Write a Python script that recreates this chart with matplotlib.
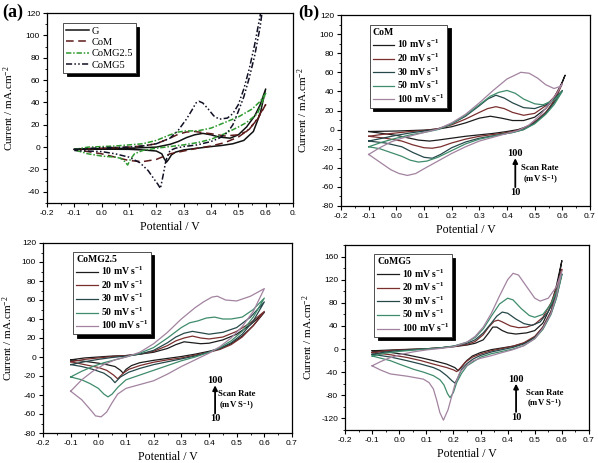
import matplotlib
matplotlib.use('Agg')
import matplotlib.pyplot as plt
from matplotlib.ticker import MultipleLocator, FormatStrFormatter

plt.rcParams['font.family'] = 'Liberation Serif'
plt.rcParams['mathtext.fontset'] = 'custom'
plt.rcParams['mathtext.rm'] = 'Liberation Serif'
plt.rcParams['mathtext.bf'] = 'Liberation Serif:bold'
plt.rcParams['mathtext.default'] = 'regular'
plt.rcParams['axes.unicode_minus'] = False
plt.rcParams['axes.linewidth'] = 0.9

# ---- (a) comparison of electrodes ----
A_G_E = [-0.1, 0.0, 0.1, 0.2, 0.25, 0.28, 0.31, 0.34, 0.37, 0.40, 0.43, 0.47, 0.50, 0.53, 0.56, 0.58, 0.60,
         0.58, 0.555, 0.52, 0.48, 0.44, 0.40, 0.35, 0.30, 0.27, 0.255, 0.245, 0.237, 0.228, 0.22, 0.20, 0.15, 0.10, 0.0, -0.1]
A_G_I = [-2, -1.5, -1, 0, 2.5, 5, 8.5, 11, 12.3, 11, 9, 8, 11, 18, 28, 38, 52,
         30, 14, 6, 3, 1.5, 0.5, -1, -2.5, -4.5, -7, -11, -13.5, -10, -6, -3.5, -2.5, -2, -1.8, -2]
A_COM_E = [-0.1, 0.0, 0.1, 0.15, 0.2, 0.25, 0.28, 0.31, 0.34, 0.37, 0.40, 0.45, 0.50, 0.53, 0.56, 0.60,
           0.57, 0.54, 0.50, 0.45, 0.40, 0.35, 0.30, 0.25, 0.20, 0.15, 0.10, 0.05, 0.0, -0.05, -0.1]
A_COM_I = [-2, -1, 0, 1, 3, 8, 11.5, 13.5, 14, 13, 12, 10, 11, 14, 22, 38,
           25, 16, 9, 4, 1, -1, -3.5, -6, -11, -13, -12, -9, -6, -4, -2]
A_G25_E = [-0.1, -0.05, 0.0, 0.05, 0.1, 0.15, 0.2, 0.25, 0.28, 0.31, 0.35, 0.4, 0.45, 0.5, 0.55, 0.58, 0.6,
           0.57, 0.53, 0.5, 0.45, 0.4, 0.35, 0.3, 0.25, 0.2, 0.15, 0.12, 0.105, 0.095, 0.085, 0.07, 0.05, 0.0, -0.05, -0.1]
A_G25_I = [-2, 0, 0.5, 1, 2, 3, 6, 11, 13.5, 14.5, 14.5, 17, 22, 27, 34, 41, 48,
           30, 22, 18, 12, 7, 4, 2, 0.5, -1, -3, -6, -11, -16, -13, -10, -9, -8, -6, -2.5]
A_G5_E = [-0.1, 0.0, 0.1, 0.15, 0.2, 0.25, 0.28, 0.31, 0.33, 0.345, 0.356, 0.37, 0.39, 0.41, 0.43, 0.46, 0.48, 0.5,
          0.52, 0.54, 0.56, 0.58, 0.6,
          0.58, 0.56, 0.54, 0.52, 0.5, 0.48, 0.46, 0.43, 0.4, 0.35, 0.3, 0.27, 0.25, 0.235, 0.225, 0.215, 0.205,
          0.19, 0.17, 0.14, 0.1, 0.05, 0.0, -0.05, -0.1]
A_G5_I = [-2, -0.5, 0, 1, 3, 8, 15, 25, 33, 39.5, 41, 39.5, 34, 28, 25, 26, 30, 38,
          52, 70, 92, 118, 145,
          108, 82, 62, 45, 32, 20, 13, 8, 5, 2, 0.5, -1, -3, -12, -25, -37, -33,
          -28, -21, -14, -9, -6, -4, -3.5, -3]

# ---- (b) CoM, scan rates ----
B_10_E = [-0.1, 0.0, 0.1, 0.15, 0.2, 0.25, 0.3, 0.34, 0.38, 0.42, 0.46, 0.5, 0.54, 0.57, 0.6, 0.61,
          0.58, 0.55, 0.52, 0.48, 0.44, 0.4, 0.35, 0.3, 0.25, 0.2, 0.15, 0.12, 0.08, 0.04, 0.0, -0.05, -0.1]
B_10_I = [-2, -1.5, -0.5, 0.5, 3, 7, 12, 14, 12, 9.5, 9.5, 13, 22, 33, 50, 57,
          35, 21, 12, 4, 0, -2, -4, -5.5, -7, -9, -11, -12, -11, -8.5, -6, -4, -2]
B_20_E = [-0.1, -0.05, 0.0, 0.05, 0.1, 0.15, 0.2, 0.25, 0.3, 0.33, 0.36, 0.39, 0.42, 0.46, 0.5, 0.54, 0.57, 0.6,
          0.57, 0.54, 0.5, 0.46, 0.42, 0.38, 0.3, 0.25, 0.2, 0.16, 0.13, 0.1, 0.06, 0.02, -0.04, -0.1]
B_20_I = [-7, -5, -3.5, -2, -1, 1, 5, 11, 18, 22, 24, 22, 18, 15, 17, 25, 34, 48,
          30, 18, 8, 1, -2, -4, -7, -10, -14, -18, -19.5, -19, -16, -12, -9, -7]
B_30_E = [-0.1, -0.05, 0.0, 0.05, 0.1, 0.15, 0.2, 0.25, 0.3, 0.33, 0.36, 0.39, 0.42, 0.46, 0.5, 0.54, 0.57, 0.6,
          0.57, 0.54, 0.5, 0.46, 0.42, 0.38, 0.3, 0.25, 0.2, 0.16, 0.13, 0.1, 0.06, 0.02, -0.04, -0.1]
B_30_I = [-12, -9, -6, -3.5, -1.5, 0.5, 6, 14, 25, 32, 36, 33, 28, 23, 22, 26, 32, 41,
          28, 17, 7, 0, -3, -5, -9, -13, -19, -26, -30, -29, -24, -18, -14, -12]
B_50_E = [-0.1, -0.05, 0.0, 0.05, 0.1, 0.15, 0.2, 0.25, 0.3, 0.34, 0.37, 0.4, 0.43, 0.46, 0.5, 0.53, 0.57, 0.6,
          0.57, 0.54, 0.5, 0.46, 0.42, 0.38, 0.3, 0.25, 0.2, 0.15, 0.11, 0.08, 0.05, 0.02, -0.02, -0.06, -0.1]
B_50_I = [-18, -13, -9, -5.5, -3, 0, 6, 15, 26, 35, 39, 41, 38, 32, 27, 26, 31, 40,
          26, 16, 6, 0, -3, -5, -10, -15, -22, -29, -33, -34, -32, -28, -24, -20, -18]
B_100_E = [-0.1, -0.06, -0.02, 0.02, 0.06, 0.1, 0.15, 0.2, 0.25, 0.3, 0.35, 0.4, 0.45, 0.48, 0.51, 0.54, 0.57, 0.59, 0.6,
           0.58, 0.55, 0.52, 0.48, 0.44, 0.4, 0.35, 0.3, 0.25, 0.2, 0.15, 0.1, 0.07, 0.04, 0.01, -0.02, -0.05, -0.08, -0.1]
B_100_I = [-26, -19, -13, -9, -6, -3, 0.5, 7, 16, 28, 41, 53, 60, 59, 54, 47, 43, 45, 48,
           38, 26, 15, 5, -1, -4, -8, -12, -18, -25, -33, -41, -46, -48, -46, -42, -36, -30, -26]

# ---- (c) CoMG2.5, scan rates ----
C_10_E = [-0.1, -0.05, 0.0, 0.05, 0.1, 0.15, 0.2, 0.25, 0.28, 0.31, 0.34, 0.37, 0.4, 0.45, 0.5, 0.55, 0.6,
          0.56, 0.52, 0.48, 0.44, 0.4, 0.35, 0.3, 0.25, 0.2, 0.15, 0.12, 0.1, 0.09, 0.08, 0.06, 0.03, 0.0, -0.05, -0.1]
C_10_I = [-3, -1, 0, 1, 1.5, 3, 5, 9, 13, 16, 15, 14, 14.5, 18, 24, 34, 47,
          33, 22, 14, 9, 6, 3, 0.5, -1.5, -3.5, -6, -9, -13, -17, -14, -10, -8, -6.5, -4.5, -3]
C_20_E = [-0.1, -0.05, 0.0, 0.05, 0.1, 0.15, 0.2, 0.25, 0.28, 0.31, 0.34, 0.37, 0.4, 0.45, 0.5, 0.55, 0.6,
          0.56, 0.52, 0.48, 0.44, 0.4, 0.35, 0.3, 0.25, 0.2, 0.15, 0.11, 0.09, 0.07, 0.055, 0.03, 0.0, -0.05, -0.1]
C_20_I = [-5, -2.5, -1, 0.5, 1.5, 3, 6, 12, 17, 20, 22, 20, 19, 21, 27, 36, 48,
          33, 21, 13, 8, 5, 2, -1, -3, -5.5, -9, -13, -17, -23, -19, -14, -11, -8, -5]
C_30_E = [-0.1, -0.05, 0.0, 0.05, 0.1, 0.15, 0.2, 0.25, 0.28, 0.31, 0.34, 0.37, 0.4, 0.45, 0.5, 0.55, 0.6,
          0.56, 0.52, 0.48, 0.44, 0.4, 0.35, 0.3, 0.25, 0.2, 0.15, 0.11, 0.08, 0.06, 0.045, 0.02, -0.02, -0.06, -0.1]
C_30_I = [-8, -5, -2.5, -0.5, 1, 3, 7, 15, 21, 25, 27, 25.5, 24, 26, 31, 42, 58,
          38, 24, 15, 9, 5, 1, -2, -5, -8, -12, -16, -21, -27, -22, -17, -13, -10, -8]
C_50_E = [-0.1, -0.06, -0.02, 0.02, 0.06, 0.1, 0.15, 0.2, 0.25, 0.3, 0.33, 0.36, 0.39, 0.42, 0.45, 0.48, 0.52, 0.56, 0.6,
          0.56, 0.52, 0.48, 0.44, 0.4, 0.35, 0.3, 0.25, 0.2, 0.15, 0.1, 0.07, 0.05, 0.035, 0.02, 0.0, -0.03, -0.06, -0.1]
C_50_I = [-21, -15, -10, -6, -3, 0, 4, 10, 20, 31, 36, 38, 41, 42, 40, 40, 42, 50, 62,
          42, 27, 17, 10, 5, 0, -4, -9, -14, -19, -24, -32, -39, -42, -39, -33, -28, -24, -21]
C_100_E = [-0.1, -0.06, -0.02, 0.02, 0.06, 0.1, 0.15, 0.2, 0.25, 0.3, 0.35, 0.38, 0.41, 0.43, 0.46, 0.5, 0.55, 0.6,
           0.56, 0.52, 0.48, 0.44, 0.4, 0.35, 0.3, 0.25, 0.2, 0.15, 0.1, 0.07, 0.05, 0.03, 0.01, -0.01, -0.03, -0.06, -0.1]
C_100_I = [-36, -24, -15, -8, -3, 0, 5, 14, 26, 40, 52, 58, 63, 64, 60, 59, 64, 72,
           48, 32, 20, 11, 4, -3, -10, -18, -25, -29, -33, -39, -48, -58, -63, -62, -55, -45, -36]

# ---- (d) CoMG5, scan rates ----
D_10_E = [-0.1, 0.0, 0.1, 0.15, 0.2, 0.25, 0.28, 0.31, 0.33, 0.345, 0.36, 0.38, 0.4, 0.43, 0.47, 0.5, 0.53, 0.56, 0.58, 0.6,
          0.58, 0.56, 0.53, 0.5, 0.46, 0.42, 0.38, 0.34, 0.3, 0.27, 0.249, 0.23, 0.218, 0.205, 0.175, 0.126, 0.08, 0.028, -0.03, -0.1]
D_10_I = [-3, -1, 0.5, 2, 4, 7, 10, 16, 28, 38, 38, 32, 28, 26, 28, 32, 45, 75, 110, 153,
          100, 65, 38, 20, 10, 5, 2, -1, -6, -12, -20, -31, -37.5, -32, -26, -20, -15, -10, -6, -3]
D_20_E = [-0.1, -0.05, 0.0, 0.1, 0.15, 0.2, 0.25, 0.28, 0.31, 0.33, 0.35, 0.365, 0.38, 0.41, 0.44, 0.47, 0.5, 0.53, 0.56, 0.58, 0.6,
          0.58, 0.56, 0.53, 0.5, 0.46, 0.42, 0.38, 0.34, 0.3, 0.27, 0.243, 0.225, 0.212, 0.2, 0.175, 0.126, 0.08, 0.028, -0.03, -0.1]
D_20_I = [-6, -3, -1.5, 0.5, 2, 4.5, 8, 13, 25, 38, 48, 50, 47, 40, 37, 38, 43, 55, 80, 105, 138,
          95, 65, 38, 22, 11, 5, 1, -3, -8.5, -14, -23, -33, -39, -36, -32, -26, -20, -14.5, -10, -6]
D_30_E = [-0.1, -0.05, 0.0, 0.05, 0.1, 0.15, 0.2, 0.25, 0.28, 0.31, 0.34, 0.36, 0.38, 0.4, 0.43, 0.46, 0.49, 0.52, 0.55, 0.58, 0.6,
          0.58, 0.56, 0.53, 0.5, 0.46, 0.42, 0.38, 0.34, 0.3, 0.273, 0.25, 0.23, 0.218, 0.206, 0.195, 0.175, 0.15, 0.126, 0.08, 0.028, -0.03, -0.1]
D_30_I = [-9, -5, -2.5, -1, 0.5, 2, 5, 10, 16, 28, 45, 57, 64, 62, 52, 44, 41, 47, 65, 95, 130,
          90, 62, 36, 20, 9, 3, -1, -5, -11, -17, -25, -35, -48, -59, -55, -46, -37, -32, -26, -20, -14, -9]
D_50_E = [-0.1, -0.05, 0.0, 0.05, 0.1, 0.15, 0.2, 0.25, 0.28, 0.31, 0.34, 0.37, 0.4, 0.42, 0.45, 0.48, 0.5, 0.53, 0.56, 0.58, 0.6,
          0.58, 0.56, 0.53, 0.5, 0.46, 0.42, 0.38, 0.34, 0.3, 0.25, 0.23, 0.212, 0.2, 0.1875, 0.178, 0.165, 0.15, 0.126, 0.09, 0.053, 0.0, -0.033, -0.1]
D_50_I = [-12, -7, -4, -2, 0, 2, 5, 12, 20, 35, 57, 78, 88, 85, 70, 58, 55, 60, 78, 100, 128,
          88, 60, 34, 18, 6, 0, -4, -8, -14, -29, -42, -58, -75, -84, -77, -62, -53, -46, -40, -35, -26, -20, -12]
D_100_E = [-0.1, -0.07, -0.04, 0.0, 0.05, 0.1, 0.15, 0.2, 0.25, 0.28, 0.31, 0.34, 0.37, 0.4, 0.42, 0.44, 0.47, 0.5, 0.52, 0.55, 0.58, 0.6,
           0.58, 0.56, 0.53, 0.5, 0.46, 0.42, 0.38, 0.335, 0.3, 0.273, 0.245, 0.224, 0.205, 0.194, 0.18, 0.163, 0.15, 0.138, 0.126, 0.11, 0.089, 0.03, -0.033, -0.07, -0.1]
D_100_I = [-29, -22, -16, -10, -5, -1.5, 1, 4, 12, 22, 38, 62, 92, 120, 131, 128, 108, 88, 83, 88, 108, 135,
           92, 62, 36, 18, 6, -1, -6, -12, -16, -20, -30, -40, -62, -81, -105, -123, -110, -88, -69, -58, -52, -47, -43, -36, -29]

A_LABELS = ["G", "CoM", "CoMG2.5", "CoMG5"]
RATE_LABELS = [r"10 mV s$^{-1}$", r"20 mV s$^{-1}$", r"30 mV s$^{-1}$", r"50 mV s$^{-1}$", r"100 mV s$^{-1}$"]
RATE_COLORS = ["#1c1c1c", "#7a2e2e", "#27484a", "#3f8c6c", "#a283a0"]

W, H = 598, 463
fig = plt.figure(figsize=(W / 100, H / 100), dpi=100)


def add_axes(left, right, top, bottom):
    return fig.add_axes([left / W, 1 - bottom / H, (right - left) / W, (bottom - top) / H])


def style_axes(ax, ylim, ymajor, ylab_x):
    ax.set_xlim(-0.2, 0.7)
    ax.set_ylim(*ylim)
    ax.xaxis.set_major_locator(MultipleLocator(0.1))
    ax.xaxis.set_minor_locator(MultipleLocator(0.05))
    ax.xaxis.set_major_formatter(FormatStrFormatter('%.1f'))
    ax.yaxis.set_major_locator(MultipleLocator(ymajor))
    ax.yaxis.set_minor_locator(MultipleLocator(ymajor / 2))
    ax.tick_params(which='both', direction='out', top=False, right=False,
                   labelsize=6, pad=2, labelfontfamily='Liberation Sans')
    ax.tick_params(which='major', length=3, width=0.8)
    ax.tick_params(which='minor', length=1.6, width=0.6)
    ax.set_xlabel("Potential / V", fontsize=8.5)
    ax.set_ylabel("Current / mA.cm$^{-2}$", fontsize=8)
    ax.xaxis.set_label_coords(0.5, -0.095)
    ax.yaxis.set_label_coords(ylab_x, 0.5)


def rate_legend(ax, lines, title, anchor):
    leg = ax.legend(lines, RATE_LABELS, loc='upper left', bbox_to_anchor=anchor,
                    title=title, alignment='left', fancybox=False, framealpha=1,
                    edgecolor='#333333', shadow={'color': 'k', 'alpha': 1, 'ox': 2.5, 'oy': -2.5},
                    prop={'size': 7, 'weight': 'bold'}, title_fontproperties={'size': 7, 'weight': 'bold'},
                    handlelength=2.2, handletextpad=0.3, labelspacing=0.12, borderpad=0.3,
                    borderaxespad=0)
    leg.get_frame().set_linewidth(0.6)


def scan_rate_note(ax, x, y100, y10, xs, ys_top, ys_bot):
    ax.text(x, y100, "100", fontsize=7.5, weight='bold', ha='center', va='center')
    ax.text(x, y10, "10", fontsize=7.5, weight='bold', ha='center', va='center')
    span = y100 - y10
    ax.annotate('', xy=(x, y100 - 0.12 * span), xytext=(x, y10 + 0.14 * span),
                arrowprops=dict(arrowstyle='-|>', color='k', lw=1.3, mutation_scale=7,
                                shrinkA=0, shrinkB=0))
    ax.text(xs, ys_top, "Scan Rate", fontsize=6.3, weight='bold', ha='center', va='center')
    ax.text(xs, ys_bot, "(mV S$^{-1}$)", fontsize=6.3, weight='bold', ha='center', va='center')


# ---------------- (a) ----------------
ax = add_axes(47, 293, 13, 203)
l1, = ax.plot(A_G_E, A_G_I, color='#111111', lw=1.1)
l2, = ax.plot(A_COM_E, A_COM_I, color='#5c1a1a', lw=1.1, dashes=(5, 3))
l3, = ax.plot(A_G25_E, A_G25_I, color='#2f9a2f', lw=1.1, dashes=(3.5, 1.2, 1, 1.2))
l4, = ax.plot(A_G5_E, A_G5_I, color='#101025', lw=1.1, dashes=(4, 1.5, 1, 1.5, 1, 1.5))
style_axes(ax, (-50, 120), 20, -0.128)
ax.set_xticks([-0.2, -0.1, 0.0, 0.1, 0.2, 0.3, 0.4, 0.5, 0.6, 0.7],
              labels=["-0.2", "-0.1", "0.0", "0.1", "0.2", "0.3", "0.4", "0.5", "0.6", "0."])
leg = ax.legend([l1, l2, l3, l4], A_LABELS, loc='upper left', bbox_to_anchor=(0.066, 0.946),
                fancybox=False, framealpha=1, edgecolor='#333333',
                shadow={'color': 'k', 'alpha': 1, 'ox': 2.5, 'oy': -2.5},
                prop={'size': 7.5}, handlelength=2.2, handletextpad=0.2, labelspacing=0.2,
                borderpad=0.3, borderaxespad=0)
leg.get_frame().set_linewidth(0.6)

# ---------------- (b) ----------------
ax = add_axes(341, 590, 15, 206)
lines = []
for e, i, c in zip([B_10_E, B_20_E, B_30_E, B_50_E, B_100_E],
                   [B_10_I, B_20_I, B_30_I, B_50_I, B_100_I], RATE_COLORS):
    lines.append(ax.plot(e, i, color=c, lw=0.9)[0])
style_axes(ax, (-80, 120), 20, -0.125)
rate_legend(ax, lines, "CoM", (0.116, 0.948))
scan_rate_note(ax, 0.43, -25, -66, 0.52, -40, -52)

# ---------------- (c) ----------------
ax = add_axes(43, 292, 243, 433)
lines = []
for e, i, c in zip([C_10_E, C_20_E, C_30_E, C_50_E, C_100_E],
                   [C_10_I, C_20_I, C_30_I, C_50_I, C_100_I], RATE_COLORS):
    lines.append(ax.plot(e, i, color=c, lw=0.9)[0])
style_axes(ax, (-80, 120), 20, -0.112)
rate_legend(ax, lines, "CoMG2.5", (0.122, 0.954))
scan_rate_note(ax, 0.422, -25, -65, 0.50, -39, -51)

# ---------------- (d) ----------------
ax = add_axes(345, 589, 245, 430)
lines = []
for e, i, c in zip([D_10_E, D_20_E, D_30_E, D_50_E, D_100_E],
                   [D_10_I, D_20_I, D_30_I, D_50_I, D_100_I], RATE_COLORS):
    lines.append(ax.plot(e, i, color=c, lw=0.9)[0])
style_axes(ax, (-140, 180), 40, -0.123)
rate_legend(ax, lines, "CoMG5", (0.12, 0.95))
scan_rate_note(ax, 0.431, -52, -118, 0.536, -76, -94)

fig.text(2 / W, 1 - 12 / H, "(a)", fontsize=13, weight='bold', va='center', ha='left')
fig.text(298 / W, 1 - 12 / H, "(b)", fontsize=12.5, weight='bold', va='center', ha='left')

fig.savefig("out.png", dpi=100)
